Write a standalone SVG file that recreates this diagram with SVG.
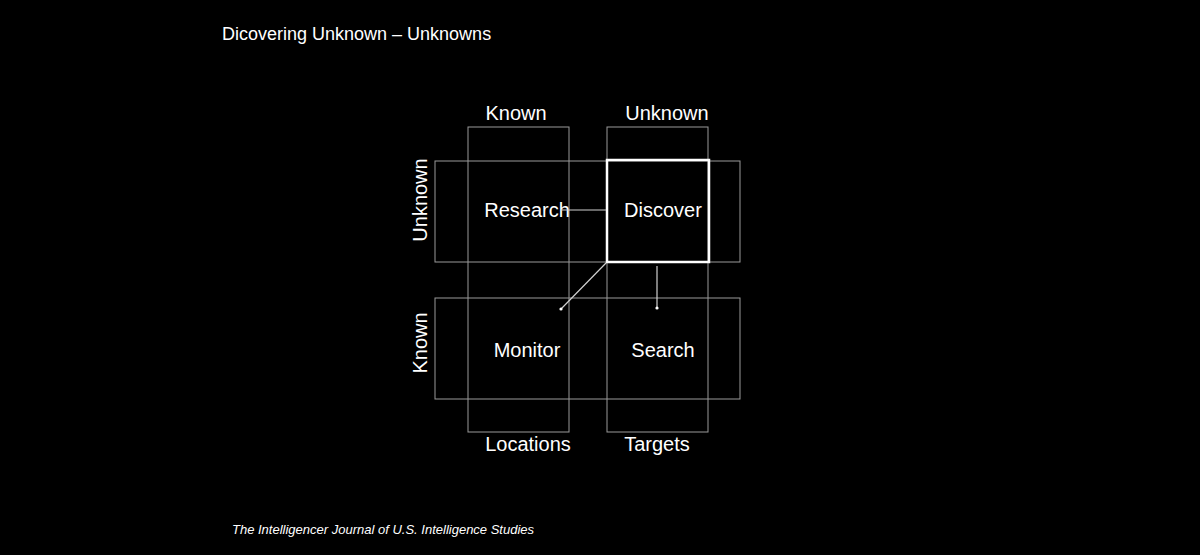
<svg xmlns="http://www.w3.org/2000/svg" width="1200" height="555" viewBox="0 0 1200 555">
<style>
.f{fill:none;stroke:#9a9a9a;stroke-width:1}
.t{font-family:"Liberation Sans",Arial,sans-serif;font-size:20px;fill:#fff;text-anchor:middle}
.c{stroke:#d0d0d0;stroke-width:1.2;fill:none}
</style>
<defs><marker id="d" viewBox="0 0 4 4" refX="2" refY="2" markerWidth="4" markerHeight="4" markerUnits="userSpaceOnUse"><circle cx="2" cy="2" r="1.6" fill="#fff"/></marker></defs>
<rect width="1200" height="555" fill="#000"/>
<text x="222" y="40" font-family="Liberation Sans,Arial,sans-serif" font-size="18" fill="#fff">Dicovering Unknown – Unknowns</text>
<text x="232" y="534" font-family="Liberation Sans,Arial,sans-serif" font-size="13" font-style="italic" fill="#fff">The Intelligencer Journal of U.S. Intelligence Studies</text>
<g id="frames">
<rect class="f" x="468" y="127" width="101" height="305"/>
<rect class="f" x="607" y="127" width="101" height="305"/>
<rect class="f" x="435" y="161" width="305" height="101"/>
<rect class="f" x="435" y="298" width="305" height="101"/>
</g>
<g id="labels">
<text class="t" x="516" y="120">Known</text>
<text class="t" x="667" y="120">Unknown</text>
<text class="t" x="528" y="451">Locations</text>
<text class="t" x="657" y="451">Targets</text>
<text class="t" transform="translate(427,200) rotate(-90)">Unknown</text>
<text class="t" transform="translate(427,343) rotate(-90)">Known</text>
</g>
<g id="research"><text class="t" x="527" y="217">Research</text></g>
<g id="discover"><rect x="607" y="160" width="102" height="102" fill="none" stroke="#fff" stroke-width="2.5"/><text class="t" x="663" y="217">Discover</text></g>
<g id="monitor"><text class="t" x="527" y="357">Monitor</text></g>
<g id="search"><text class="t" x="663" y="357">Search</text></g>
<g id="connectors">
<line class="c" x1="561" y1="210" x2="606" y2="210"/>
<line class="c" x1="606" y1="263" x2="561" y2="309" marker-end="url(#d)"/>
<line class="c" x1="657" y1="266" x2="657" y2="308" marker-end="url(#d)"/>
</g>
</svg>
